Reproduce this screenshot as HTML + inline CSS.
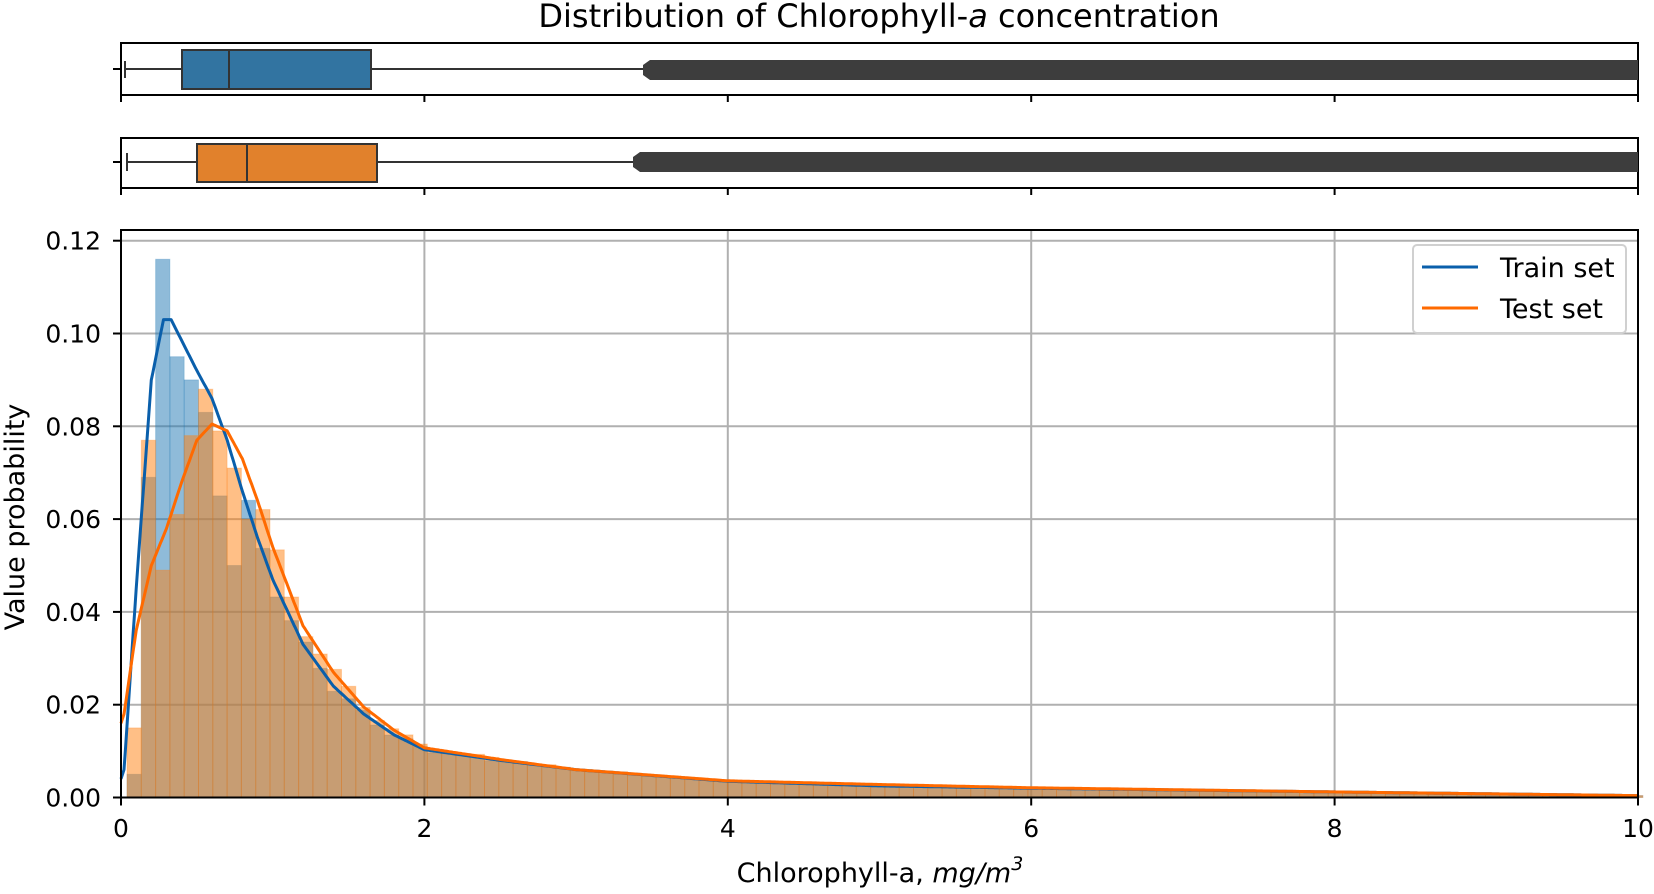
<!DOCTYPE html>
<html><head><meta charset="utf-8"><style>
html,body{margin:0;padding:0;background:#fff;}
svg text{font-family:"DejaVu Sans","Liberation Sans",sans-serif;fill:#000;}
</style></head><body>
<svg id="s" width="1654" height="889" xmlns="http://www.w3.org/2000/svg">
<text x="879" y="27" font-size="32" text-anchor="middle">Distribution of Chlorophyll-<tspan font-style="italic">a</tspan> concentration</text>
<!-- box 1 -->
<rect x="121" y="43" width="1517" height="52" fill="#fff" stroke="#000" stroke-width="2"/>
<line x1="125" y1="69" x2="182" y2="69" stroke="#333" stroke-width="2"/>
<line x1="125" y1="61" x2="125" y2="78" stroke="#333" stroke-width="2"/>
<line x1="371" y1="69" x2="650" y2="69" stroke="#333" stroke-width="2"/>
<rect x="182" y="50" width="189" height="39" fill="#3274a1" stroke="#333" stroke-width="2"/>
<line x1="229" y1="50" x2="229" y2="89" stroke="#333" stroke-width="2"/>
<path d="M650,60 L1638,60 L1638,80 L650,80 L643,75 L643,65 Z" fill="#3d3d3d"/>
<line x1="113" y1="69" x2="121" y2="69" stroke="#000" stroke-width="2"/>
<!-- box 2 -->
<rect x="121" y="138" width="1517" height="50" fill="#fff" stroke="#000" stroke-width="2"/>
<line x1="127" y1="162" x2="197" y2="162" stroke="#333" stroke-width="2"/>
<line x1="127" y1="153" x2="127" y2="171" stroke="#333" stroke-width="2"/>
<line x1="377" y1="162" x2="640" y2="162" stroke="#333" stroke-width="2"/>
<rect x="197" y="144" width="180" height="38" fill="#e1812c" stroke="#333" stroke-width="2"/>
<line x1="247" y1="144" x2="247" y2="182" stroke="#333" stroke-width="2"/>
<path d="M640,152 L1638,152 L1638,172 L640,172 L633,167 L633,157 Z" fill="#3d3d3d"/>
<line x1="113" y1="162" x2="121" y2="162" stroke="#000" stroke-width="2"/>
<g id="bt"></g>
<g id="main"></g>
</svg>
<script>
const NS="http://www.w3.org/2000/svg";
const X0=121,X1=1638,Y0=797.5,YT=230;
const sx=v=>X0+(X1-X0)*v/10, sy=v=>Y0-v*4640;
const m=document.getElementById('main'), bt=document.getElementById('bt');
function el(t,a,p,txt){const e=document.createElementNS(NS,t);for(const k in a)e.setAttribute(k,a[k]);if(txt!==undefined)e.textContent=txt;(p||m).appendChild(e);return e;}
for(let i=0;i<=10;i+=2){const x=sx(i);el('line',{x1:x,y1:95,x2:x,y2:102,stroke:'#000','stroke-width':2},bt);el('line',{x1:x,y1:188,x2:x,y2:195,stroke:'#000','stroke-width':2},bt);}
for(let i=0;i<=10;i+=2)el('line',{x1:sx(i),y1:YT,x2:sx(i),y2:Y0,stroke:'#b0b0b0','stroke-width':2});
for(let j=0;j<=6;j++)el('line',{x1:X0,y1:sy(j*0.02),x2:X1,y2:sy(j*0.02),stroke:'#b0b0b0','stroke-width':2});
const tr=[[0,0.004],[0.02,0.006],[0.1,0.045],[0.2,0.09],[0.28,0.103],[0.33,0.103],[0.5,0.092],[0.6,0.086],[0.7,0.077],[0.8,0.066],[0.9,0.056],[1.0,0.047],[1.2,0.033],[1.4,0.024],[1.6,0.018],[1.8,0.0135],[2.0,0.0103],[2.5,0.008],[3,0.006],[4,0.0035],[5,0.0025],[6,0.002],[8,0.0012],[10,0.0004]];
const te=[[0,0.016],[0.02,0.018],[0.1,0.036],[0.2,0.05],[0.3,0.058],[0.4,0.068],[0.5,0.077],[0.6,0.0805],[0.7,0.079],[0.8,0.073],[0.9,0.064],[1.0,0.054],[1.2,0.037],[1.4,0.027],[1.6,0.0195],[1.8,0.0145],[2.0,0.0107],[2.5,0.0082],[3,0.006],[4,0.0036],[5,0.0028],[6,0.0021],[8,0.0012],[10,0.0004]];
function f(pts,x){for(let i=1;i<pts.length;i++)if(x<=pts[i][0]){const a=pts[i-1],b=pts[i];return a[1]+(b[1]-a[1])*(x-a[0])/(b[0]-a[0]);}return pts[pts.length-1][1];}
const w=14.3, start=127;
const bo={0:0.005,1:0.069,2:0.116,3:0.095,4:0.090,5:0.083,6:0.065,7:0.050};
const oo={0:0.015,1:0.077,2:0.049,3:0.061,4:0.078,5:0.088,6:0.079,7:0.071,8:0.060};
const bars=[];
for(let k=0;start+k*w<X1-1;k++){
 const x=start+k*w, c=(x+w/2-X0)/(X1-X0)*10;
 const b=bo[k]!==undefined?bo[k]:f(tr,c)*(1+0.04*Math.sin(k*1.7));
 const o=oo[k]!==undefined?oo[k]:f(te,c)*(1+0.04*Math.cos(k*1.3));
 bars.push([x,b,o]);
}
for(const [x,b] of bars)el('rect',{x:x,y:sy(b),width:w,height:Y0-sy(b),fill:'#1f77b4','fill-opacity':0.5,stroke:'#1f77b4','stroke-opacity':0.25,'stroke-width':1});
for(const [x,b,o] of bars)el('rect',{x:x,y:sy(o),width:w,height:Y0-sy(o),fill:'#ff7f0e','fill-opacity':0.5,stroke:'#ff7f0e','stroke-opacity':0.25,'stroke-width':1});
function line(pts,col){let d='';for(let x=0;x<=10.0001;x+=0.01){const px=sx(x),py=sy(f(pts,x));d+=(d?'L':'M')+px.toFixed(1)+','+py.toFixed(1);}el('path',{d:d,fill:'none',stroke:col,'stroke-width':3,'stroke-linejoin':'round'});}
line(tr,'#0a5fab');line(te,'#ff6a00');
el('rect',{x:X0,y:YT,width:X1-X0,height:Y0-YT,fill:'none',stroke:'#000','stroke-width':2});
for(let i=0;i<=10;i+=2){el('line',{x1:sx(i),y1:Y0,x2:sx(i),y2:Y0+8,stroke:'#000','stroke-width':2});el('text',{x:sx(i),y:837,'font-size':25,'text-anchor':'middle'},m,String(i));}
for(let j=0;j<=6;j++){const y=sy(j*0.02);el('line',{x1:X0-8,y1:y,x2:X0,y2:y,stroke:'#000','stroke-width':2});el('text',{x:101,y:y+9,'font-size':25,'text-anchor':'end'},m,(j*0.02).toFixed(2));}
el('rect',{x:1413,y:245,width:213,height:88,rx:4,fill:'#fff','fill-opacity':0.85,stroke:'#d0d0d0','stroke-width':2});
el('line',{x1:1422,y1:267,x2:1478,y2:267,stroke:'#0a5fab','stroke-width':3});
el('line',{x1:1422,y1:308,x2:1478,y2:308,stroke:'#ff6a00','stroke-width':3});
el('text',{x:1500,y:277,'font-size':27},m,'Train set');
el('text',{x:1500,y:318,'font-size':27},m,'Test set');
const xl=el('text',{x:880,y:882,'font-size':27,'text-anchor':'middle'},m,'Chlorophyll-a, ');
const ts=document.createElementNS(NS,'tspan');ts.setAttribute('font-style','italic');ts.textContent='mg/m';xl.appendChild(ts);
const sup=document.createElementNS(NS,'tspan');sup.setAttribute('font-style','italic');sup.setAttribute('font-size','19');sup.setAttribute('dy','-12');sup.textContent='3';xl.appendChild(sup);
el('text',{x:0,y:0,'font-size':27,'text-anchor':'middle',transform:'translate(24,517) rotate(-90)'},m,'Value probability');
</script>
</body></html>
